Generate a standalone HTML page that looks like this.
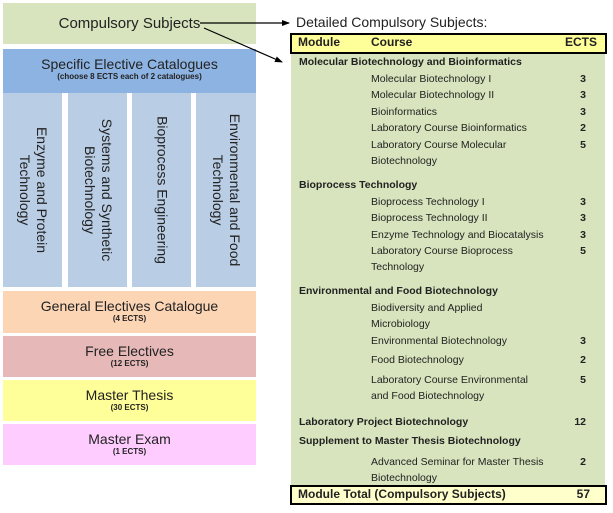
<!DOCTYPE html>
<html><head><style>
body{margin:0;width:613px;height:513px;background:#fff;position:relative;font-family:"Liberation Sans",sans-serif;overflow:hidden}
.b{position:absolute;text-align:center;color:#222}
.t{position:absolute;font-size:10.5px;color:#222;white-space:nowrap;line-height:12px}
.m{font-weight:bold;left:299px}
.c{left:371px}
.n{left:560px;width:26px;text-align:right;font-weight:bold}
.col{position:absolute;top:93px;height:194px;width:59px;background:#b9cde5}
.v{position:absolute;left:50%;top:50%;transform:translate(-50%,-50%) rotate(90deg);white-space:nowrap;font-size:14px;line-height:17px;text-align:center;color:#222}
</style></head><body>
<div class="b" style="left:3px;top:3px;width:253px;height:41px;background:#d7e4bd;font-size:15px;line-height:41px">Compulsory Subjects</div>
<div class="b" style="left:3px;top:49px;width:253px;height:44px;background:#8db3e2"><div style="font-size:14px;margin-top:7px">Specific Elective Catalogues</div><div style="font-size:8px;font-weight:bold">(choose 8 ECTS each of 2 catalogues)</div></div>
<div class="col" style="left:3px"><div class="v">Enzyme and Protein<br>Technology</div></div>
<div class="col" style="left:68px"><div class="v">Systems and Synthetic<br>Biotechnology</div></div>
<div class="col" style="left:132px"><div class="v">Bioprocess Engineering</div></div>
<div class="col" style="left:196px;width:60px"><div class="v">Environmental and Food<br>Technology</div></div>
<div class="b" style="left:3px;top:291px;width:253px;height:42px;background:#fcd5b5"><div style="font-size:14px;margin-top:7px">General Electives Catalogue</div><div style="font-size:8px;font-weight:bold">(4 ECTS)</div></div>
<div class="b" style="left:3px;top:336px;width:253px;height:41px;background:#e6b9b8"><div style="font-size:14px;margin-top:7px">Free Electives</div><div style="font-size:8px;font-weight:bold">(12 ECTS)</div></div>
<div class="b" style="left:3px;top:380px;width:253px;height:41px;background:#ffff99"><div style="font-size:14px;margin-top:7px">Master Thesis</div><div style="font-size:8px;font-weight:bold">(30 ECTS)</div></div>
<div class="b" style="left:3px;top:424px;width:253px;height:41px;background:#ffccff"><div style="font-size:14px;margin-top:7px">Master Exam</div><div style="font-size:8px;font-weight:bold">(1 ECTS)</div></div>
<svg style="position:absolute;left:0;top:0" width="613" height="513">
<defs><marker id="a" markerWidth="8" markerHeight="8" refX="7" refY="4" orient="auto" markerUnits="userSpaceOnUse"><path d="M0,1 L8,4 L0,7z" fill="#000"/></marker></defs>
<line x1="200" y1="23" x2="289" y2="23" stroke="#000" stroke-width="1.2" marker-end="url(#a)"/>
<line x1="204" y1="28" x2="282" y2="62" stroke="#000" stroke-width="1.2" marker-end="url(#a)"/>
</svg>
<div class="t" style="left:296px;top:14px;font-size:14px;line-height:16px">Detailed Compulsory Subjects:</div>
<div style="position:absolute;left:291px;top:53px;width:314px;height:432px;background:#d7e4bd"></div>
<div style="position:absolute;left:290px;top:33px;width:313px;height:17px;background:#ffff99;border:2px solid #000"></div>
<div class="t" style="left:298px;top:36px;font-size:12px;font-weight:bold">Module</div>
<div class="t" style="left:371px;top:36px;font-size:12px;font-weight:bold">Course</div>
<div class="t" style="left:560px;top:36px;width:37px;text-align:right;font-size:12px;font-weight:bold">ECTS</div>
<div style="position:absolute;left:290px;top:485px;width:313px;height:16px;background:#ffffcc;border:2px solid #000"></div>
<div class="t" style="left:298px;top:488px;font-size:12px;font-weight:bold">Module Total (Compulsory Subjects)</div>
<div class="t" style="left:560px;top:488px;width:30px;text-align:right;font-size:12px;font-weight:bold">57</div>

<div class="t m" style="top:56px">Molecular Biotechnology and Bioinformatics</div>
<div class="t c" style="top:73px">Molecular Biotechnology I</div><div class="t n" style="top:73px">3</div>
<div class="t c" style="top:89px">Molecular Biotechnology II</div><div class="t n" style="top:89px">3</div>
<div class="t c" style="top:106px">Bioinformatics</div><div class="t n" style="top:106px">3</div>
<div class="t c" style="top:122px">Laboratory Course Bioinformatics</div><div class="t n" style="top:122px">2</div>
<div class="t c" style="top:139px">Laboratory Course Molecular</div><div class="t n" style="top:139px">5</div>
<div class="t c" style="top:155px">Biotechnology</div>
<div class="t m" style="top:179px">Bioprocess Technology</div>
<div class="t c" style="top:196px">Bioprocess Technology I</div><div class="t n" style="top:196px">3</div>
<div class="t c" style="top:212px">Bioprocess Technology II</div><div class="t n" style="top:212px">3</div>
<div class="t c" style="top:229px">Enzyme Technology and Biocatalysis</div><div class="t n" style="top:229px">3</div>
<div class="t c" style="top:245px">Laboratory Course Bioprocess</div><div class="t n" style="top:245px">5</div>
<div class="t c" style="top:261px">Technology</div>
<div class="t m" style="top:285px">Environmental and Food Biotechnology</div>
<div class="t c" style="top:302px">Biodiversity and Applied</div>
<div class="t c" style="top:318px">Microbiology</div>
<div class="t c" style="top:335px">Environmental Biotechnology</div><div class="t n" style="top:335px">3</div>
<div class="t c" style="top:354px">Food Biotechnology</div><div class="t n" style="top:354px">2</div>
<div class="t c" style="top:374px">Laboratory Course Environmental</div><div class="t n" style="top:374px">5</div>
<div class="t c" style="top:390px">and Food Biotechnology</div>
<div class="t m" style="top:416px">Laboratory Project Biotechnology</div><div class="t n" style="top:416px">12</div>
<div class="t m" style="top:435px">Supplement to Master Thesis Biotechnology</div>
<div class="t c" style="top:456px">Advanced Seminar for Master Thesis</div><div class="t n" style="top:456px">2</div>
<div class="t c" style="top:472px">Biotechnology</div>
</body></html>
